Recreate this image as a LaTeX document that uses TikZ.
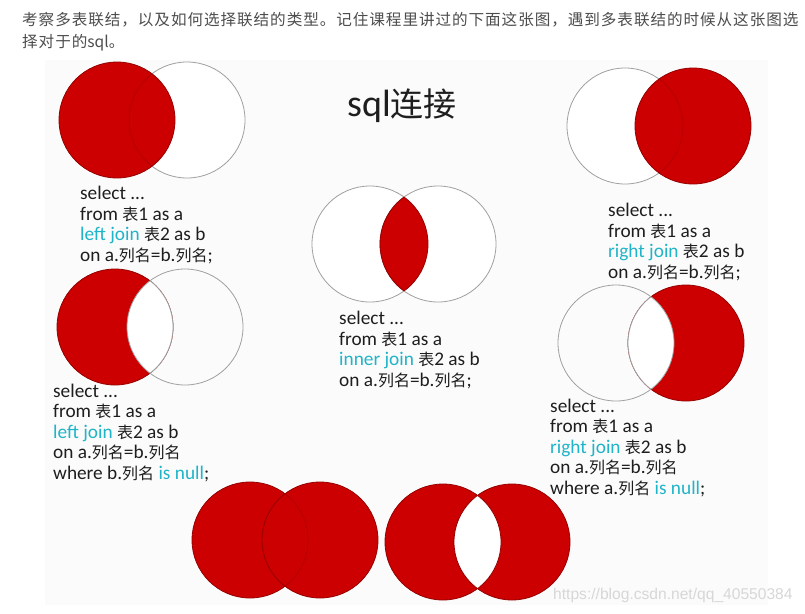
\documentclass[tikz,border=0pt]{standalone}
\usepackage{fontspec}
\setmainfont{Carlito}
\newfontfamily\cjk{Noto Sans CJK SC}
\newfontfamily\cjktop{Noto Sans CJK SC}[LetterSpace=6]
\newfontfamily\wmfont{Liberation Sans}
\definecolor{jred}{RGB}{204,0,0}
\definecolor{jredd}{RGB}{150,0,0}
\definecolor{ringgray}{RGB}{160,160,160}
\definecolor{jcyan}{RGB}{32,180,200}
\definecolor{jtext}{RGB}{30,30,30}
\definecolor{toptext}{RGB}{77,77,77}
\definecolor{bgpanel}{RGB}{251,251,251}
\definecolor{wmgray}{RGB}{215,215,215}
\newcommand\zh[1]{{\cjk\fontsize{16}{20.5}\selectfont #1}}
\newcommand\cy[1]{\textcolor{jcyan}{#1}}
\tikzset{
  ring/.style={draw=ringgray, line width=0.8pt},
  redf/.style={fill=jred, draw=jredd, line width=0.8pt},
  inarc/.style={draw=jredd, line width=0.8pt, opacity=0.4},
  sqltext/.style={anchor=base west, inner sep=0pt, align=left, text=jtext,
    font=\fontsize{19.3}{20.5}\selectfont},
}
\begin{document}
\begin{tikzpicture}[x=1pt,y=-1pt]
\useasboundingbox (0,0) rectangle (805,613);
\fill[white] (0,0) rectangle (805,613);
\fill[bgpanel] (45,60) rectangle (768,605);

% top paragraph
\node[anchor=base west, inner sep=0pt, text=toptext, font=\cjktop\fontsize{15.6}{22}\selectfont] (p1) at (22,25)
  {考察多表联结，以及如何选择联结的类型。记住课程里讲过的下面这张图，遇到多表联结的时候从这张图选};
\node[anchor=base west, inner sep=0pt, text=toptext, font=\cjktop\fontsize{15.6}{22}\selectfont] (p2) at (22,47)
  {择对于的{\cjk\fontsize{15.6}{22}\selectfont sql}。};

% title
\node[inner sep=0pt, text=jtext] (title) at (402,106)
  {\fontsize{38}{40}\selectfont sql{\cjk\fontsize{33}{40}\selectfont 连接}};

% 1 left join
\draw[ring, fill=white] (187,120) circle (58);
\draw[redf] (117,120) circle (58);
\begin{scope}\clip (117,120) circle (58); \draw[inarc] (187,120) circle (58);\end{scope}
\node[sqltext] (t1) at (80,261)
  {select ...\\from \zh{表}1 as a\\\cy{left join} \zh{表}2 as b\\on a.\zh{列名}=b.\zh{列名};};

% 2 inner join
\draw[ring, fill=white] (370,244) circle (58);
\draw[ring, fill=white] (438,244) circle (58);
\begin{scope}\clip (370,244) circle (58); \draw[redf] (438,244) circle (58);\end{scope}
\begin{scope}\clip (438,244) circle (58); \draw[draw=jredd, line width=0.8pt] (370,244) circle (58);\end{scope}
\node[sqltext] (t2) at (339,386)
  {select ...\\from \zh{表}1 as a\\\cy{inner join} \zh{表}2 as b\\on a.\zh{列名}=b.\zh{列名};};

% 3 right join
\draw[ring, fill=white] (625,126) circle (58);
\draw[redf] (693,126) circle (58);
\begin{scope}\clip (693,126) circle (58); \draw[inarc] (625,126) circle (58);\end{scope}
\node[sqltext] (t3) at (608,278)
  {select ...\\from \zh{表}1 as a\\\cy{right join} \zh{表}2 as b\\on a.\zh{列名}=b.\zh{列名};};

% 4 left only
\draw[redf] (115,327) circle (58);
\begin{scope}\clip (115,327) circle (58); \fill[white] (185,327) circle (58);\end{scope}
\draw[ring] (185,327) circle (58);
\begin{scope}\clip (185,327) circle (58); \draw[ring] (115,327) circle (58);\end{scope}
\node[sqltext] (t4) at (53,479)
  {select ...\\from \zh{表}1 as a\\\cy{left join} \zh{表}2 as b\\on a.\zh{列名}=b.\zh{列名}\\where b.\zh{列名} \cy{is null};};

% 5 right only
\draw[redf] (686,343) circle (58);
\begin{scope}\clip (686,343) circle (58); \fill[white] (616,343) circle (58);\end{scope}
\draw[ring] (616,343) circle (58);
\begin{scope}\clip (616,343) circle (58); \draw[ring] (686,343) circle (58);\end{scope}
\node[sqltext] (t5) at (550,494)
  {select ...\\from \zh{表}1 as a\\\cy{right join} \zh{表}2 as b\\on a.\zh{列名}=b.\zh{列名}\\where a.\zh{列名} \cy{is null};};

% 6 full outer
\draw[redf] (250,540) circle (58);
\draw[redf] (320,540) circle (58);
\begin{scope}\clip (320,540) circle (58); \draw[inarc] (250,540) circle (58);\end{scope}

% 7 xor
\draw[redf] (443,542) circle (58);
\draw[redf] (512,542) circle (58);
\begin{scope}\clip (443,542) circle (58); \fill[white] (512,542) circle (58);\end{scope}
\begin{scope}\clip (443,542) circle (58); \draw[draw=jredd, line width=0.8pt] (512,542) circle (58);\end{scope}
\begin{scope}\clip (512,542) circle (58); \draw[draw=jredd, line width=0.8pt] (443,542) circle (58);\end{scope}

% watermark
\node[anchor=base west, inner sep=0pt, text=wmgray, font=\wmfont\fontsize{15.6}{18}\selectfont] (wm) at (553,599)
  {https://blog.csdn.net/qq\_40550384};
\end{tikzpicture}
\end{document}
